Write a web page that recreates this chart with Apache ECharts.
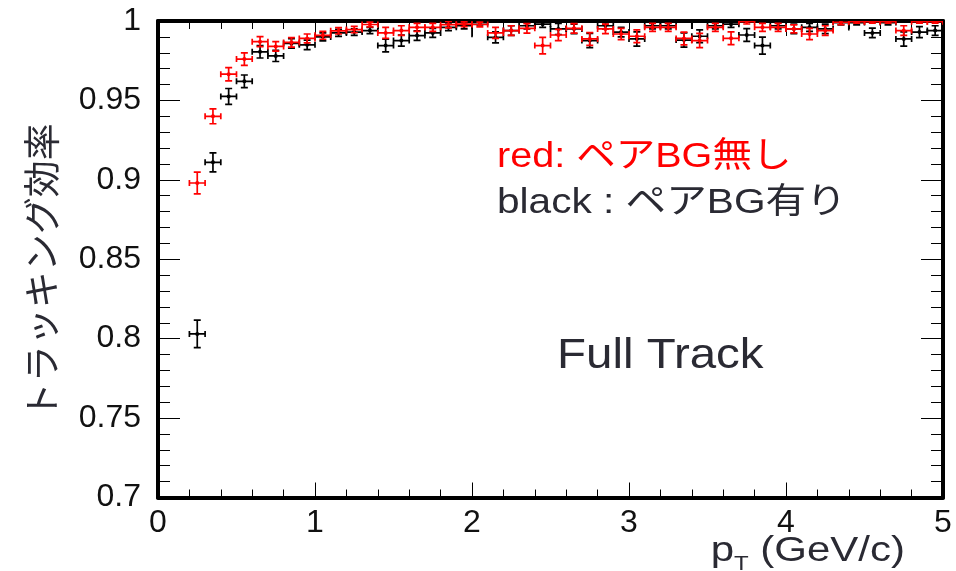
<!DOCTYPE html>
<html>
<head>
<meta charset="utf-8">
<script src="https://cdn.jsdelivr.net/npm/echarts@6/dist/echarts.min.js"></script>
<style>html,body{margin:0;padding:0;background:#fff;}#c{width:956px;height:571px;}</style>
</head>
<body>
<div id="c"></div>
<script>
const xCenters = [0.25,0.35,0.45,0.55,0.65,0.75,0.85,0.95,1.05,1.15,1.25,1.35,1.45,1.55,1.65,1.75,1.85,1.95,2.05,2.15,2.25,2.35,2.45,2.55,2.65,2.75,2.85,2.95,3.05,3.15,3.25,3.35,3.45,3.55,3.65,3.75,3.85,3.95,4.05,4.15,4.25,4.35,4.45,4.55,4.65,4.75,4.85,4.95];
const redEff = [0.898,0.940,0.9665,0.976,0.987,0.984,0.9865,0.989,0.991,0.9938,0.9946,0.9978,0.9925,0.994,0.996,0.996,0.9977,0.998,0.9978,0.9925,0.994,0.9954,0.9845,0.9912,0.9954,0.9887,0.995,0.9918,0.9904,0.996,0.996,0.989,0.9877,0.996,0.9891,0.9996,0.996,0.996,0.995,0.9918,0.994,0.9992,0.9996,0.9996,0.9996,0.994,0.9996,0.9996];
const redErr = [0.0068,0.0047,0.0042,0.0039,0.0031,0.003,0.003,0.0028,0.0025,0.002,0.002,0.0015,0.0035,0.003,0.0025,0.0025,0.002,0.0015,0.0015,0.0035,0.003,0.003,0.0052,0.0035,0.003,0.004,0.003,0.0035,0.004,0.0025,0.0025,0.004,0.0045,0.0025,0.004,0.0015,0.0025,0.0025,0.0025,0.0035,0.003,0.0015,0.001,0.001,0.001,0.003,0.001,0.001];
const blackEff = [0.803,0.911,0.9525,0.962,0.9806,0.978,0.9859,0.985,0.990,0.9925,0.993,0.994,0.9845,0.9877,0.9908,0.9925,0.996,0.997,0.999,0.9897,0.994,0.997,0.998,0.995,0.995,0.9877,0.997,0.993,0.9887,0.997,0.997,0.988,0.9904,0.997,0.998,0.9912,0.9845,0.997,0.995,0.996,0.995,0.999,0.999,0.9925,0.999,0.9887,0.993,0.994];
const blackErr = [0.0087,0.006,0.005,0.004,0.0039,0.0035,0.003,0.003,0.0025,0.0022,0.002,0.002,0.004,0.0035,0.003,0.0028,0.002,0.002,0.0015,0.0035,0.003,0.002,0.002,0.0035,0.003,0.0045,0.002,0.003,0.0045,0.002,0.002,0.0045,0.004,0.002,0.002,0.004,0.0054,0.002,0.003,0.0025,0.003,0.0015,0.0015,0.003,0.0015,0.0045,0.0035,0.003];
const blackEdgeX = [2.0, 3.4, 4.4];
const blackEdgeLow = [0.9897, 0.995, 0.994];
const blackEdgeHigh = [1.0, 0.9995, 0.998];
const binHalfWidth = 0.05;

const FONT = '"Liberation Sans", "Noto Sans CJK JP", sans-serif';

function errRender(color) {
  return function (params, api) {
    const x = api.value(0), y = api.value(1), e = api.value(2);
    const c = api.coord([x, y]);
    const l = api.coord([x - binHalfWidth, y]);
    const r = api.coord([x + binHalfWidth, y]);
    const t = api.coord([x, y + e]);
    const b = api.coord([x, y - e]);
    const st = {stroke: color, lineWidth: 1.7};
    const cw = 3.5, ch = 3;
    const cs = params.coordSys;
    return {
      type: 'group',
      clipPath: {type: 'rect', shape: {x: cs.x, y: cs.y, width: cs.width, height: cs.height}},
      children: [
        {type: 'line', shape: {x1: l[0], y1: l[1], x2: r[0], y2: r[1]}, style: st},
        {type: 'line', shape: {x1: t[0], y1: t[1], x2: b[0], y2: b[1]}, style: st},
        {type: 'line', shape: {x1: t[0] - cw, y1: t[1], x2: t[0] + cw, y2: t[1]}, style: st},
        {type: 'line', shape: {x1: b[0] - cw, y1: b[1], x2: b[0] + cw, y2: b[1]}, style: st},
        {type: 'line', shape: {x1: l[0], y1: l[1] - ch, x2: l[0], y2: l[1] + ch}, style: st},
        {type: 'line', shape: {x1: r[0], y1: r[1] - ch, x2: r[0], y2: r[1] + ch}, style: st},
        {type: 'circle', shape: {cx: c[0], cy: c[1], r: 2}, style: {fill: color}}
      ]
    };
  };
}

function edgeRender(params, api) {
  const x = api.value(0);
  const lo = api.coord([x, api.value(1)]);
  const hi = api.coord([x, api.value(2)]);
  const cs = params.coordSys;
  return {
    type: 'group',
    clipPath: {type: 'rect', shape: {x: cs.x, y: cs.y, width: cs.width, height: cs.height}},
    children: [{type: 'line', shape: {x1: lo[0], y1: lo[1], x2: hi[0], y2: hi[1]}, style: {stroke: '#000', lineWidth: 1.7}}]
  };
}

const axisLine = {show: true, onZero: false, lineStyle: {color: '#000', width: 4}};
const tickStyle = {color: '#000', width: 1};

const option = {
  animation: false,
  backgroundColor: '#fff',
  textStyle: {fontFamily: FONT},
  grid: {left: 158, right: 13, top: 21, bottom: 73.5, containLabel: false, outerBoundsMode: 'none'},
  xAxis: [
    {
      type: 'value', position: 'bottom', min: 0, max: 5, interval: 1,
      axisLine: axisLine,
      axisTick: {show: true, inside: true, length: 15, lineStyle: tickStyle},
      minorTick: {show: true, splitNumber: 5, length: 8, lineStyle: tickStyle},
      splitLine: {show: false}, minorSplitLine: {show: false},
      axisLabel: {fontSize: 32, color: '#111', margin: 10, fontFamily: FONT}
    },
    {
      type: 'value', position: 'top', min: 0, max: 5, interval: 1,
      axisLine: axisLine,
      axisTick: {show: true, inside: true, length: 15, lineStyle: tickStyle},
      minorTick: {show: true, splitNumber: 5, length: 8, lineStyle: tickStyle},
      splitLine: {show: false}, axisLabel: {show: false}
    }
  ],
  yAxis: [
    {
      type: 'value', position: 'left', min: 0.7, max: 1, interval: 0.05,
      axisLine: axisLine,
      axisTick: {show: true, inside: true, length: 22, lineStyle: tickStyle},
      minorTick: {show: true, splitNumber: 5, length: 12, lineStyle: tickStyle},
      splitLine: {show: false}, minorSplitLine: {show: false},
      axisLabel: {fontSize: 32, color: '#111', margin: 17, fontFamily: FONT},
      name: 'トラッキング効率',
      nameLocation: 'middle', nameGap: 98,
      nameTextStyle: {fontSize: 37, color: '#2a2a33', fontFamily: '"Noto Sans CJK JP", sans-serif', padding: [0, 24, 0, 0]}
    },
    {
      type: 'value', position: 'right', min: 0.7, max: 1, interval: 0.05,
      axisLine: axisLine,
      axisTick: {show: true, inside: true, length: 22, lineStyle: tickStyle},
      minorTick: {show: true, splitNumber: 5, length: 12, lineStyle: tickStyle},
      splitLine: {show: false}, axisLabel: {show: false}
    }
  ],
  graphic: [
    {type: 'text', x: 497, y: 157, scaleX: 1.13, style: {text: 'red: ペアBG無し', fill: '#ff0000', font: '35px ' + FONT, verticalAlign: 'middle'}},
    {type: 'text', x: 497, y: 203, scaleX: 1.16, style: {text: 'black : ペアBG有り', fill: '#2a2a33', font: '35px ' + FONT, verticalAlign: 'middle'}},
    {type: 'text', x: 557, y: 356, scaleX: 1.13, style: {text: 'Full Track', fill: '#2a2a33', font: '42px ' + FONT, verticalAlign: 'middle'}},
    {type: 'text', x: 905, y: 551, scaleX: 1.2, originX: 0, style: {
      text: '{a|p}{b|T}{a| (GeV/c)}', align: 'right', verticalAlign: 'middle',
      rich: {
        a: {font: '35px ' + FONT, fill: '#2a2a33', verticalAlign: 'bottom'},
        b: {font: '20px ' + FONT, fill: '#2a2a33', verticalAlign: 'bottom', padding: [0, 0, -6, 0]}
      }
    }}
  ],
  series: [
    {
      name: 'black', type: 'custom', xAxisIndex: 0, yAxisIndex: 0, renderItem: errRender('#000'),
      encode: {x: 0, y: 1},
      data: xCenters.map((x, i) => [x, blackEff[i], blackErr[i]])
    },
    {
      name: 'black-edge', type: 'custom', xAxisIndex: 0, yAxisIndex: 0, renderItem: edgeRender,
      encode: {x: 0, y: 1},
      data: blackEdgeX.map((x, i) => [x, blackEdgeLow[i], blackEdgeHigh[i]])
    },
    {
      name: 'red', type: 'custom', xAxisIndex: 0, yAxisIndex: 0, renderItem: errRender('#ff0000'),
      encode: {x: 0, y: 1},
      data: xCenters.map((x, i) => [x, redEff[i], redErr[i]])
    }
  ]
};

const chart = echarts.init(document.getElementById('c'), null, {renderer: 'canvas'});
chart.setOption(option);
</script>
</body>
</html>
